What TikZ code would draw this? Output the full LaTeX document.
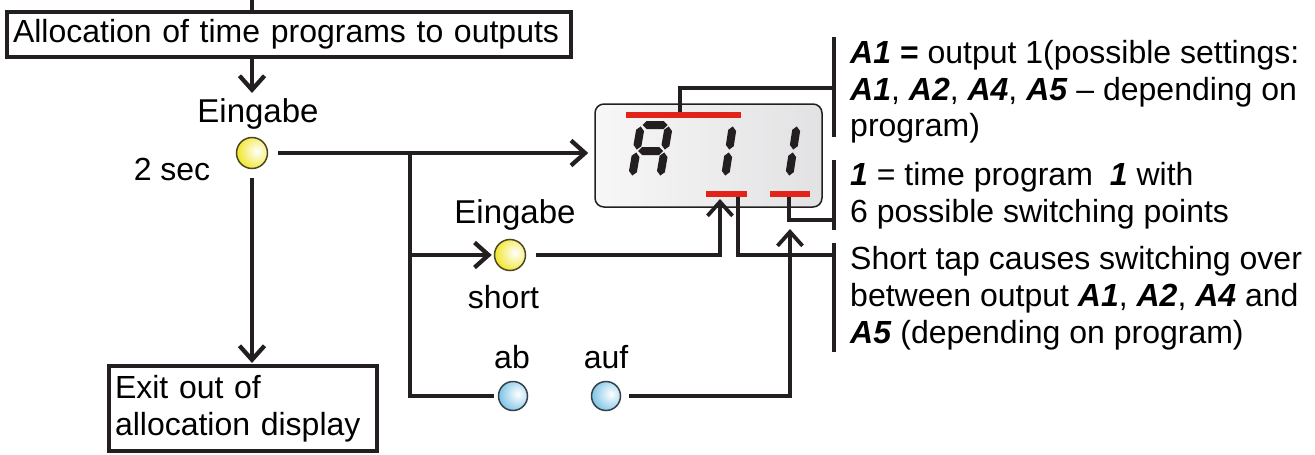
\documentclass[tikz,border=0pt]{standalone}
\usepackage{fontspec}
\setmainfont{Liberation Sans}
\usetikzlibrary{calc,arrows.meta}
\definecolor{ink}{HTML}{231F20}
\definecolor{redbar}{HTML}{E2231A}
\definecolor{btnY}{HTML}{F0E62A}
\definecolor{btnB}{HTML}{78C2E6}
\definecolor{dispA}{HTML}{F7F7F7}
\definecolor{dispB}{HTML}{E2E2E4}
\newcommand\bi[1]{\textbf{\textit{#1}}}
\newcommand\sgm[2]{%
  \coordinate (sA) at ($(#1)!1.5pt!(#2)$);
  \coordinate (sB) at ($(#2)!1.5pt!(#1)$);
  \coordinate (sA1) at ($(sA)!4pt!(sB)$);
  \coordinate (sB1) at ($(sB)!4pt!(sA)$);
  \fill[ink] (sA) -- ($(sA1)!4pt!90:(sB)$) -- ($(sB1)!4pt!-90:(sA)$) -- (sB)
     -- ($(sB1)!4pt!90:(sA)$) -- ($(sA1)!4pt!-90:(sB)$) -- cycle;}
\begin{document}
\begin{tikzpicture}[x=1pt,y=-1pt,
  font=\fontsize{32}{37}\selectfont,
  flow/.style={draw=ink, line width=4.3pt},
  arr/.style={flow, -{Straight Barb[length=14pt,width=25pt]}},
  conn/.style={draw=ink, line width=3.2pt},
  brk/.style={draw=ink, line width=4.3pt},
  boxnode/.style={draw=ink, line width=4pt, rectangle, inner ysep=0pt, align=left},
  lbl/.style={inner sep=0pt, anchor=base},
  rtxt/.style={inner sep=0pt, anchor=base west},
  rbar/.style={fill=redbar, inner sep=0pt, minimum height=5.5pt, rectangle},
  ybtn/.style={circle, minimum size=31pt, inner sep=0pt, draw=ink!80!btnY, line width=1.5pt, fill=btnY,
    path picture={\shade[inner color=white, outer color=btnY] ([xshift=5pt,yshift=2pt]path picture bounding box.center) circle (20pt);}},
  bbtn/.style={circle, minimum size=29pt, inner sep=0pt, draw=ink!80!btnB, line width=1.5pt, fill=btnB,
    path picture={\shade[inner color=white, outer color=btnB] ([xshift=5pt,yshift=2pt]path picture bounding box.center) circle (20pt);}}
]
\useasboundingbox (0,0) rectangle (1315,455);

% boxes
\node[boxnode, minimum width=564pt, minimum height=45pt, text width=552pt, inner xsep=6pt] (alloc) at (289,34.5)
  {Allocation of time programs to outputs};
\node[boxnode, minimum width=268pt, minimum height=85pt, text width=256pt, inner xsep=6pt] (exit) at (243,408.5)
  {Exit out of\\allocation display};

% display
\node[draw=ink, line width=1.5pt, rounded corners=9pt, minimum width=227pt, minimum height=103pt,
  left color=dispA, right color=dispB, inner sep=0pt] (disp) at (708.5,155.5) {};

% buttons
\node[ybtn] (b1) at (252,153) {};
\node[ybtn] (b2) at (510,255) {};
\node[bbtn] (b3) at (513,396) {};
\node[bbtn] (b4) at (606,396) {};

% labels
\node[lbl, font=\fontsize{33}{37}\selectfont] (l1) at (258,122) {Eingabe};
\node[lbl] (l2) at (172,180) {2 sec};
\node[lbl, font=\fontsize{33}{37}\selectfont] (l3) at (515,223) {Eingabe};
\node[lbl] (l4) at (503.5,308) {short};
\node[lbl] (l5) at (512,368) {ab};
\node[lbl] (l6) at (606,368) {auf};

% coordinates
\coordinate (topc) at (252,0);
\coordinate (a1tip) at (252,93);
\coordinate (br) at (410,153);
\coordinate (in1) at (720,199);
\coordinate (in2) at (790,229);
\coordinate (c1) at (680,115);
\coordinate (c2) at (738,194);
\coordinate (c3) at (789,194);
\coordinate (k1a) at (834,37);
\coordinate (k1b) at (834,137);
\coordinate (k1m) at (834,88);
\coordinate (k2a) at (834,160);
\coordinate (k2b) at (834,230);
\coordinate (k2m) at (834,220);
\coordinate (k3a) at (834,243);
\coordinate (k3b) at (834,352);
\coordinate (k3m) at (834,255);

% flow connectors
\draw[flow] (topc) -- (alloc.north -| topc);
\draw[arr] (alloc.south -| a1tip) -- (a1tip);
\draw[arr, shorten <=10pt, shorten >=6pt] (b1) -- (b1 -| disp.west);
\draw[arr, shorten <=9pt, shorten >=1pt] (b1) -- (b1 |- exit.north);
\draw[flow, line width=3.8pt, shorten >=4pt] (br) |- (b3);
\draw[arr, shorten >=2pt] (br |- b2) -- (b2);
\draw[arr, line width=3.8pt, shorten <=10pt] (b2) -| (in1);
\draw[arr, line width=3.8pt, shorten <=8pt] (b4) -| (in2);

% display connectors
\draw[conn] (c1) |- (k1m);
\draw[conn] (c2) |- (k3m);
\draw[conn] (c3) |- (k2m);
\draw[brk] (k1a) -- (k1b);
\draw[brk] (k2a) -- (k2b);
\draw[brk] (k3a) -- (k3b);

% red bars
\node[rbar, minimum width=115pt] (rbT) at (683.5,115) {};
\node[rbar, minimum width=41pt] (rb1) at (726.5,194) {};
\node[rbar, minimum width=40pt] (rb2) at (790,194) {};

% seven segment digits
\sgm{641,125}{669,125}
\sgm{641,125}{636.5,151}
\sgm{669,125}{664.5,151}
\sgm{636.5,151}{664.5,151}
\sgm{636.5,151}{632,177}
\sgm{664.5,151}{660,177}
\sgm{733,125}{729,151}
\sgm{729,151}{725,177}
\sgm{797,125}{793,151}
\sgm{793,151}{789,177}

% right texts
\node[rtxt] (t1a) at (850,63) {\bi{A1} \textbf{=} output 1(possible settings:};
\node[rtxt] (t1b) at (850,100) {\bi{A1}, \bi{A2}, \bi{A4}, \bi{A5} -- depending on};
\node[rtxt] (t1c) at (850,136) {program)};
\node[rtxt] (t2a) at (850,185) {\bi{1} = time program\hspace{8pt} \bi{1} with};
\node[rtxt] (t2b) at (850,222) {6 possible switching points};
\node[rtxt] (t3a) at (850,269) {Short tap causes switching over};
\node[rtxt] (t3b) at (850,306) {between output \bi{A1}, \bi{A2}, \bi{A4} and};
\node[rtxt] (t3c) at (850,343) {\bi{A5} (depending on program)};
\end{tikzpicture}
\end{document}
